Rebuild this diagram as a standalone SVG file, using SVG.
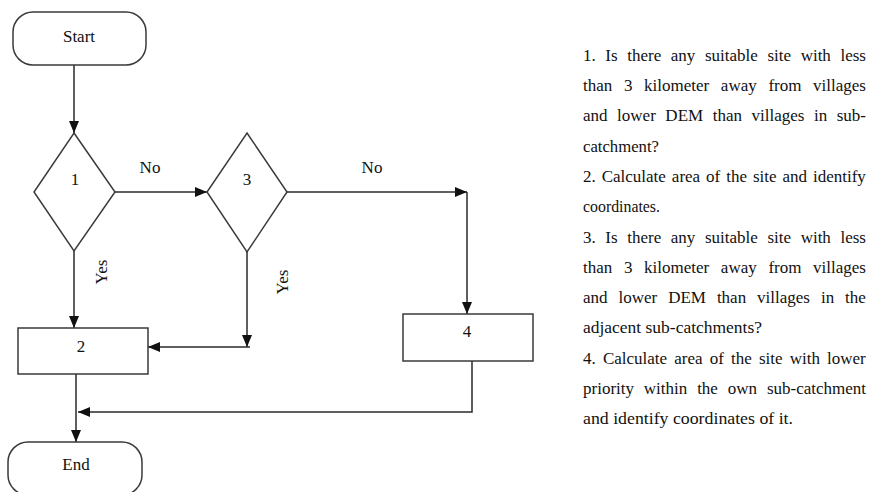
<svg xmlns="http://www.w3.org/2000/svg" width="869" height="492" viewBox="0 0 869 492">
<style>
.shape{fill:#fff;stroke:#3a3a3a;stroke-width:1.5}
.conn{fill:none;stroke:#2a2a2a;stroke-width:1.5}
.lbl{font-family:"Liberation Serif","Times New Roman",serif;font-size:17px;fill:#111;text-anchor:middle}
.para{font-family:"Liberation Serif","Times New Roman",serif;font-size:17px;fill:#111}
</style>
<defs>
<marker id="arr" viewBox="0 0 12 10" refX="12" refY="5" markerWidth="12" markerHeight="10" markerUnits="userSpaceOnUse" orient="auto">
<path d="M0,0 L12,5 L0,10 Z" fill="#111"/>
</marker>
</defs>
<g id="connectors">
<path class="conn" d="M74,65 V133" marker-end="url(#arr)"/>
<path class="conn" d="M115,192 H207" marker-end="url(#arr)"/>
<path class="conn" d="M287,192 H467" marker-end="url(#arr)"/>
<path class="conn" d="M467,192 V314" marker-end="url(#arr)"/>
<path class="conn" d="M74,251 V328" marker-end="url(#arr)"/>
<path class="conn" d="M247,252 V347" marker-end="url(#arr)"/>
<path class="conn" d="M250,347 H148" marker-end="url(#arr)"/>
<path class="conn" d="M76,374 V442" marker-end="url(#arr)"/>
<path class="conn" d="M472,361 V412 H78" marker-end="url(#arr)"/>
<text class="lbl" x="150" y="173">No</text>
<text class="lbl" x="372" y="173">No</text>
<text class="lbl" transform="translate(107,272) rotate(-90)">Yes</text>
<text class="lbl" transform="translate(288,282) rotate(-90)">Yes</text>
</g>
<g id="start">
<rect class="shape" x="13" y="12" width="133" height="53" rx="20"/>
<text class="lbl" x="79" y="42">Start</text>
</g>
<g id="n1">
<polygon class="shape" points="74,133 115,192 74,251 34,192"/>
<text class="lbl" x="75" y="185">1</text>
</g>
<g id="n3">
<polygon class="shape" points="247,133 287,192 247,252 207,192"/>
<text class="lbl" x="247" y="185">3</text>
</g>
<g id="n2">
<rect class="shape" x="18" y="328" width="130" height="46"/>
<text class="lbl" x="81" y="352">2</text>
</g>
<g id="n4">
<rect class="shape" x="403" y="314" width="130" height="47"/>
<text class="lbl" x="467" y="337">4</text>
</g>
<g id="end">
<rect class="shape" x="8" y="442" width="134" height="53" rx="20"/>
<text class="lbl" x="76" y="470">End</text>
</g>
<g id="legend" class="para">
<text x="583" y="60.7" word-spacing="5.35">1. Is there any suitable site with less</text>
<text x="583" y="91" word-spacing="7.4">than 3 kilometer away from villages</text>
<text x="583" y="121.3" word-spacing="5.3">and lower DEM than villages in sub-</text>
<text x="583" y="151.6" textLength="76" lengthAdjust="spacingAndGlyphs">catchment?</text>
<text x="583" y="181.9" word-spacing="1.7">2. Calculate area of the site and identify</text>
<text x="583" y="212.2" textLength="77" lengthAdjust="spacingAndGlyphs">coordinates.</text>
<text x="583" y="242.5" word-spacing="5.35">3. Is there any suitable site with less</text>
<text x="583" y="272.8" word-spacing="7.4">than 3 kilometer away from villages</text>
<text x="583" y="303.1" word-spacing="6.7">and lower DEM than villages in the</text>
<text x="583" y="333.4" textLength="179" lengthAdjust="spacingAndGlyphs">adjacent sub-catchments?</text>
<text x="583" y="363.7" word-spacing="2.9">4. Calculate area of the site with lower</text>
<text x="583" y="394" word-spacing="5.6">priority within the own sub-catchment</text>
<text x="583" y="424.3" textLength="210" lengthAdjust="spacingAndGlyphs">and identify coordinates of it.</text>
</g>
</svg>
